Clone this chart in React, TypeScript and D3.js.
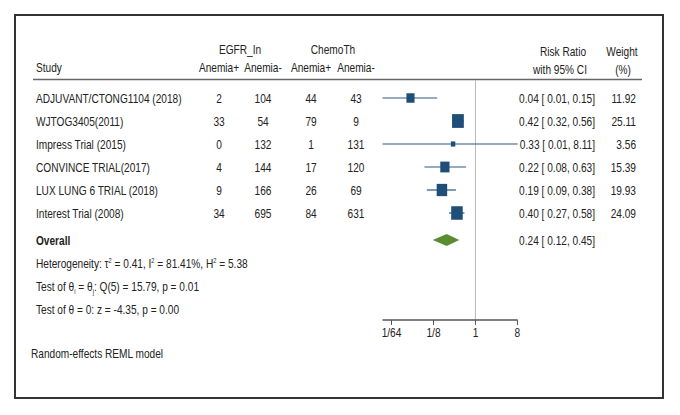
import React from "react";
import * as d3 from "d3";

const studies = [
  "ADJUVANT/CTONG1104 (2018)",
  "WJTOG3405(2011)",
  "Impress Trial (2015)",
  "CONVINCE TRIAL(2017)",
  "LUX LUNG 6 TRIAL (2018)",
  "Interest Trial (2008)",
];
const egfrPos = [2, 33, 0, 4, 9, 34];
const egfrNeg = [104, 54, 132, 144, 166, 695];
const chemoPos = [44, 79, 1, 17, 26, 84];
const chemoNeg = [43, 9, 131, 120, 69, 631];
const rr = [0.04, 0.42, 0.33, 0.22, 0.19, 0.4];
const lo = [0.01, 0.32, 0.01, 0.08, 0.09, 0.27];
const hi = [0.15, 0.56, 8.11, 0.63, 0.38, 0.58];
const weights = [11.92, 25.11, 3.56, 15.39, 19.93, 24.09];
const overall = { rr: 0.24, lo: 0.12, hi: 0.45 };
const tickValues = [1 / 64, 1 / 8, 1, 8];
const tickLabels = ["1/64", "1/8", "1", "8"];

const FONT = "'Liberation Sans', Arial, sans-serif";
const SX = 0.81;

function T(props: { x: number; y: number; anchor?: string; bold?: boolean; children: React.ReactNode }) {
  const { x, y, anchor = "start", bold = false, children } = props;
  return (
    <text
      transform={`translate(${x},${y}) scale(${SX},1)`}
      textAnchor={anchor}
      fontFamily={FONT}
      fontSize={12.5}
      fontWeight={bold ? "bold" : "normal"}
      fill="#222"
    >
      {children}
    </text>
  );
}

export default function App() {
  const W = 680, H = 415;
  const x = d3.scaleLog().base(2).domain([0.01, 8.11]).range([382.5, 517.7]);
  const y = d3.scaleLinear().domain([0, 1]).range([98, 121]);
  const yOverall = 240;
  const axisY = 320;
  const fmt = d3.format(".2f");
  const ciText = (r: number, l: number, h: number) => `${fmt(r)} [ ${fmt(l)}, ${fmt(h)}]`;
  const colCenters = [219, 263, 311, 356];
  const cols = [egfrPos, egfrNeg, chemoPos, chemoNeg];
  const diamond = d3.line()([
    [x(overall.lo), yOverall],
    [x(overall.rr), yOverall - 6],
    [x(overall.hi), yOverall],
    [x(overall.rr), yOverall + 6],
  ]) + "Z";

  return (
    <svg width={W} height={H} style={{ position: "absolute", left: 0, top: 0, background: "#fff" }}>
      <rect x={0} y={0} width={W} height={H} fill="#fff" />
      <rect x={15} y={15} width={648} height={383} fill="none" stroke="#333" strokeWidth={2} />

      {/* headers */}
      <T x={36} y={72}>Study</T>
      <T x={240} y={54} anchor="middle">EGFR_In</T>
      <T x={333} y={54} anchor="middle">ChemoTh</T>
      {["Anemia+", "Anemia-", "Anemia+", "Anemia-"].map((h, i) => (
        <T key={i} x={colCenters[i]} y={72} anchor="middle">{h}</T>
      ))}
      <T x={563} y={56} anchor="middle">Risk Ratio</T>
      <T x={560} y={74} anchor="middle">with 95% CI</T>
      <T x={622} y={56} anchor="middle">Weight</T>
      <T x={623} y={74} anchor="middle">(%)</T>
      <line x1={33} x2={642} y1={79.5} y2={79.5} stroke="#666" strokeWidth={1.5} />

      {/* reference line at 1 */}
      <line x1={x(1)} x2={x(1)} y1={80} y2={axisY} stroke="#b8b8b8" strokeWidth={1} />

      {studies.map((s, i) => {
        const yy = y(i);
        const sw = Math.sqrt(weights[i]);
        const bw = 2.35 * sw, bh = 2.75 * sw;
        return (
          <g key={s}>
            <T x={36} y={yy + 4.5}>{s}</T>
            {cols.map((c, j) => (
              <T key={j} x={colCenters[j]} y={yy + 4.5} anchor="middle">{c[i]}</T>
            ))}
            <line x1={x(lo[i])} x2={x(hi[i])} y1={yy} y2={yy} stroke="#2b5887" strokeWidth={1.2} />
            <rect x={x(rr[i]) - bw / 2} y={yy - bh / 2} width={bw} height={bh} fill="#1f4e79" />
            <T x={595} y={yy + 4.5} anchor="end">{ciText(rr[i], lo[i], hi[i])}</T>
            <T x={636} y={yy + 4.5} anchor="end">{fmt(weights[i])}</T>
          </g>
        );
      })}

      {/* overall */}
      <T x={36} y={yOverall + 4.5} bold>Overall</T>
      <path d={diamond} fill="#5b8c32" />
      <T x={595} y={yOverall + 4.5} anchor="end">{ciText(overall.rr, overall.lo, overall.hi)}</T>

      <T x={36} y={267.5}>
        Heterogeneity: τ<tspan dy={-5} fontSize={7}>2</tspan><tspan dy={5}> = 0.41, I</tspan>
        <tspan dy={-5} fontSize={7}>2</tspan><tspan dy={5}> = 81.41%, H</tspan>
        <tspan dy={-5} fontSize={7}>2</tspan><tspan dy={5}> = 5.38</tspan>
      </T>
      <T x={36} y={290.5}>
        Test of θ<tspan dy={3} fontSize={7}>i</tspan><tspan dy={-3}> = θ</tspan>
        <tspan dy={3} fontSize={7}>j</tspan><tspan dy={-3}>: Q(5) = 15.79, p = 0.01</tspan>
      </T>
      <T x={36} y={313.5}>Test of θ = 0: z = -4.35, p = 0.00</T>

      {/* axis */}
      <line x1={x(0.01)} x2={x(8.11)} y1={axisY} y2={axisY} stroke="#555" strokeWidth={1.5} />
      {tickValues.map((t, i) => (
        <g key={i}>
          <line x1={x(t)} x2={x(t)} y1={axisY} y2={axisY + 5} stroke="#555" strokeWidth={1} />
          <T x={x(t)} y={axisY + 17} anchor="middle">{tickLabels[i]}</T>
        </g>
      ))}

      <T x={31} y={358}>Random-effects REML model</T>
    </svg>
  );
}
